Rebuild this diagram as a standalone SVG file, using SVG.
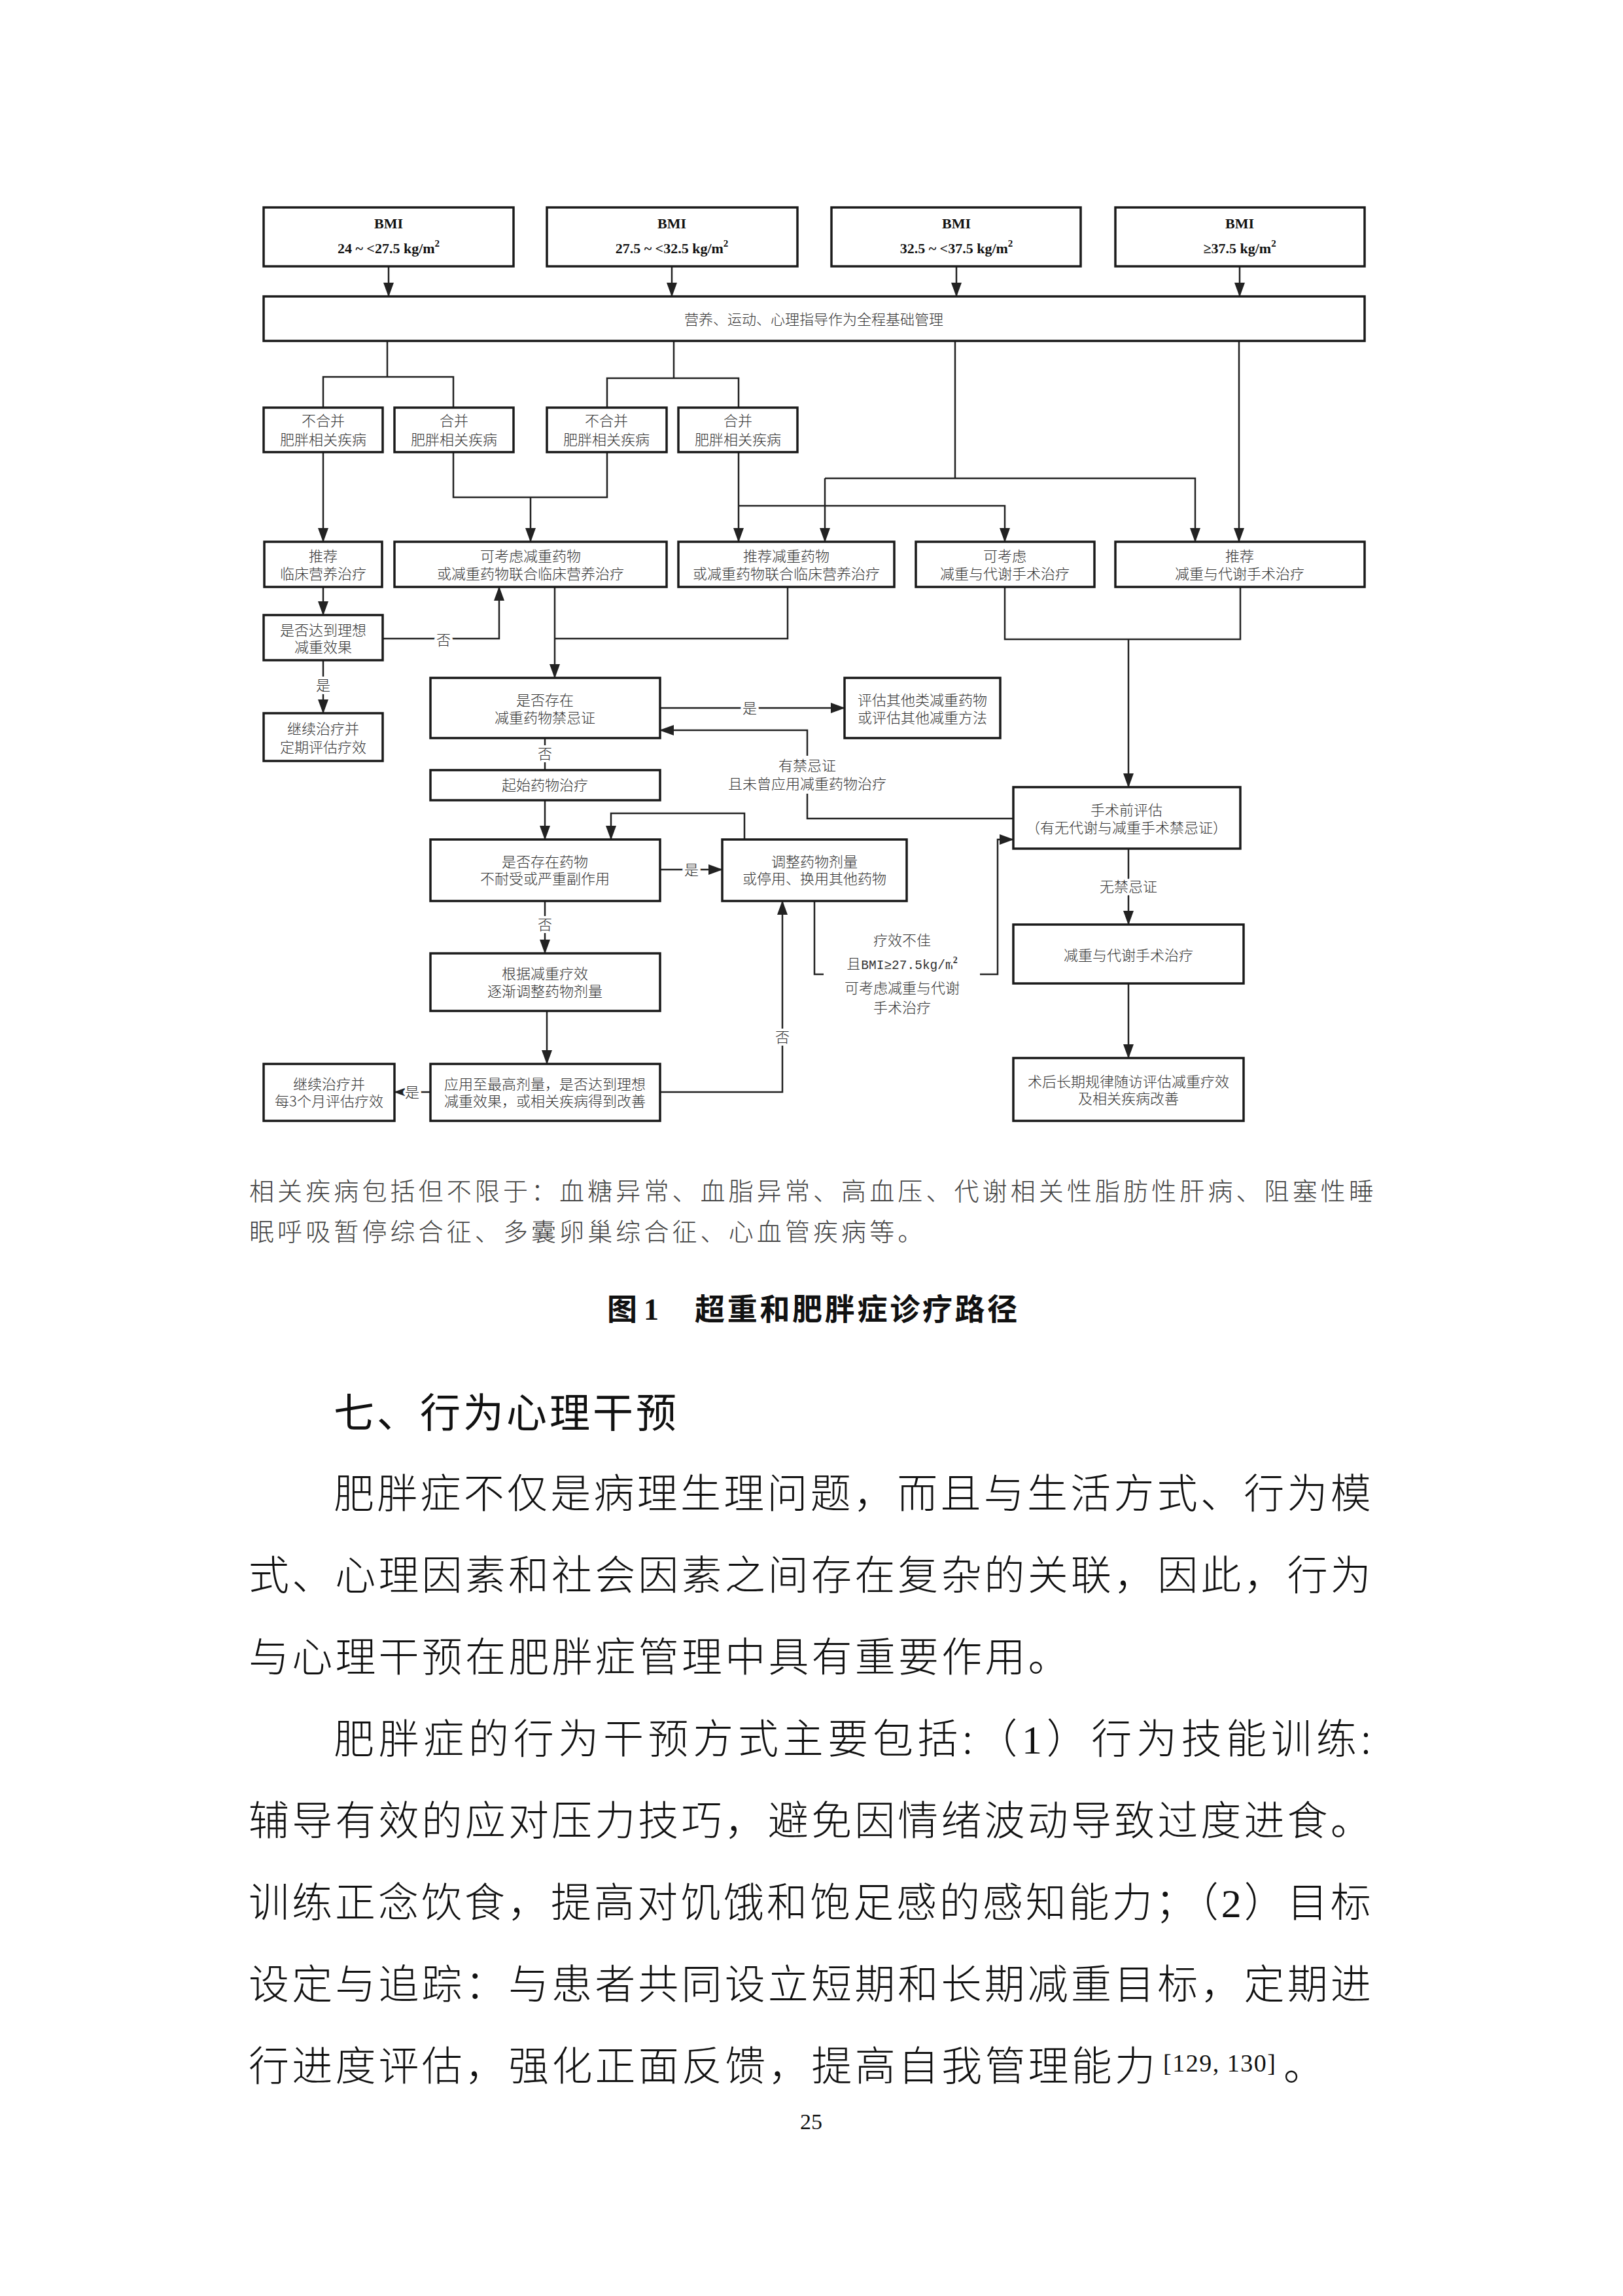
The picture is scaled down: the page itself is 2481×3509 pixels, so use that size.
<svg xmlns="http://www.w3.org/2000/svg" width="2481" height="3509" viewBox="0 0 2481 3509">
<style>
.bg{fill:#ffffff}
.box{fill:#ffffff;stroke:#1a1a1a;stroke-width:3.5}
.ln{fill:none;stroke:#222222;stroke-width:2.5}
.arr{marker-end:url(#ah)}
.t{font-family:"Noto Sans CJK SC","Noto Sans CJK TC",sans-serif;font-size:22px;font-weight:300;fill:#333333;text-anchor:middle}
.lbl{font-family:"Noto Sans CJK SC","Noto Sans CJK TC",sans-serif;font-size:22px;font-weight:300;fill:#333333;text-anchor:middle;paint-order:stroke;stroke:#ffffff;stroke-width:8px;stroke-linejoin:round}
.bmi{font-family:"Liberation Serif",serif;font-weight:bold;font-size:22px;fill:#111111;text-anchor:middle}
.mono{font-family:"Liberation Mono",monospace;font-size:19.5px}
.note{font-family:"Noto Sans CJK SC","Noto Sans CJK TC",sans-serif;font-size:38px;font-weight:300;fill:#444444;letter-spacing:5.1px}
.cap{font-family:"Noto Sans CJK SC","Noto Sans CJK TC",sans-serif;font-size:46px;font-weight:bold;fill:#111111}
.h{font-family:"Noto Sans CJK SC","Noto Sans CJK TC",sans-serif;font-size:62px;font-weight:400;fill:#111111;letter-spacing:4px}
.body{font-family:"Noto Sans CJK SC","Noto Sans CJK TC",sans-serif;font-size:62px;font-weight:300;fill:#111111;letter-spacing:4.2px}
.sup{font-family:"Liberation Serif",serif;font-size:38px;fill:#111111;letter-spacing:1.5px}
.pg{font-family:"Liberation Serif",serif;font-size:34px;fill:#111111;text-anchor:middle}
</style>
<defs>
<marker id="ah" markerUnits="userSpaceOnUse" markerWidth="22" markerHeight="16" refX="21" refY="8" orient="auto">
<path d="M0,0 L22,8 L0,16 z" fill="#222222"/>
</marker>
</defs>
<rect class="bg" x="0" y="0" width="2481" height="3509"/>

<g id="connectors">
<line class="ln arr" x1="594" y1="407" x2="594" y2="453"/>
<line class="ln arr" x1="1027" y1="407" x2="1027" y2="453"/>
<line class="ln arr" x1="1462" y1="407" x2="1462" y2="453"/>
<line class="ln arr" x1="1895" y1="407" x2="1895" y2="453"/>
<polyline class="ln" points="592,521 592,576"/>
<polyline class="ln" points="494,623 494,576 693,576 693,623"/>
<polyline class="ln" points="1030,521 1030,578"/>
<polyline class="ln" points="928,623 928,578 1129,578 1129,623"/>
<polyline class="ln" points="1460,521 1460,731"/>
<polyline class="ln arr" points="1261,731 1827,731 1827,828"/>
<polyline class="ln arr" points="1261,731 1261,828"/>
<line class="ln arr" x1="1894" y1="521" x2="1894" y2="828"/>
<line class="ln arr" x1="494" y1="691" x2="494" y2="828"/>
<polyline class="ln" points="693,691 693,760 928,760 928,691"/>
<line class="ln arr" x1="811" y1="760" x2="811" y2="828"/>
<line class="ln arr" x1="1129" y1="691" x2="1129" y2="828"/>
<polyline class="ln arr" points="1129,773 1536,773 1536,828"/>
<line class="ln arr" x1="494" y1="897" x2="494" y2="940"/>
<polyline class="ln arr" points="585,976 763,976 763,897"/>
<line class="ln arr" x1="494" y1="1009" x2="494" y2="1090"/>
<line class="ln arr" x1="848" y1="897" x2="848" y2="1036"/>
<polyline class="ln" points="1204,897 1204,976 848,976"/>
<line class="ln arr" x1="1009" y1="1082" x2="1291" y2="1082"/>
<polyline class="ln" points="1549,1251 1234,1251 1234,1213"/>
<polyline class="ln arr" points="1234,1155 1234,1116 1009,1116"/>
<line class="ln" x1="833" y1="1128" x2="833" y2="1177"/>
<line class="ln arr" x1="833" y1="1223" x2="833" y2="1283"/>
<line class="ln arr" x1="1009" y1="1329" x2="1104" y2="1329"/>
<polyline class="ln arr" points="1138,1283 1138,1243 934,1243 934,1283"/>
<line class="ln arr" x1="833" y1="1377" x2="833" y2="1457"/>
<line class="ln arr" x1="836" y1="1545" x2="836" y2="1626"/>
<line class="ln arr" x1="658" y1="1669" x2="603" y2="1669"/>
<polyline class="ln arr" points="1009,1669 1196,1669 1196,1377"/>
<polyline class="ln" points="1245,1377 1245,1489 1259,1489"/>
<polyline class="ln arr" points="1498,1489 1525,1489 1525,1283 1549,1283"/>
<polyline class="ln" points="1536,897 1536,977 1896,977 1896,897"/>
<line class="ln arr" x1="1725" y1="977" x2="1725" y2="1203"/>
<line class="ln arr" x1="1725" y1="1297" x2="1725" y2="1413"/>
<line class="ln arr" x1="1725" y1="1503" x2="1725" y2="1617"/>
<text class="lbl" x="678" y="986">否</text>
<text class="lbl" x="494" y="1055">是</text>
<text class="lbl" x="1146" y="1090">是</text>
<text class="lbl" x="1234" y="1178">有禁忌证</text>
<text class="lbl" x="1234" y="1206">且未曾应用减重药物治疗</text>
<text class="lbl" x="833" y="1160">否</text>
<text class="lbl" x="1057" y="1337">是</text>
<text class="lbl" x="833" y="1421">否</text>
<text class="lbl" x="630" y="1677">是</text>
<text class="lbl" x="1196" y="1593">否</text>
<text class="lbl" x="1379" y="1445">疗效不佳</text>
<text class="lbl" x="1379" y="1481">且<tspan class="mono">BMI≥27.5kg/m</tspan><tspan font-size="14" dy="-9" font-family="Liberation Serif, serif" font-weight="bold">2</tspan></text>
<text class="lbl" x="1379" y="1518">可考虑减重与代谢</text>
<text class="lbl" x="1379" y="1548">手术治疗</text>
<text class="lbl" x="1725" y="1363">无禁忌证</text>
</g>

<g id="bmi1"><rect class="box" x="403" y="317" width="382" height="90"/>
<text class="bmi" x="594" y="349">BMI</text>
<text class="bmi" x="594" y="387">24 ~ &lt;27.5 kg/m<tspan font-size="15" dy="-10">2</tspan></text></g>
<g id="bmi2"><rect class="box" x="836" y="317" width="383" height="90"/>
<text class="bmi" x="1027" y="349">BMI</text>
<text class="bmi" x="1027" y="387">27.5 ~ &lt;32.5 kg/m<tspan font-size="15" dy="-10">2</tspan></text></g>
<g id="bmi3"><rect class="box" x="1271" y="317" width="381" height="90"/>
<text class="bmi" x="1462" y="349">BMI</text>
<text class="bmi" x="1462" y="387">32.5 ~ &lt;37.5 kg/m<tspan font-size="15" dy="-10">2</tspan></text></g>
<g id="bmi4"><rect class="box" x="1705" y="317" width="381" height="90"/>
<text class="bmi" x="1895" y="349">BMI</text>
<text class="bmi" x="1895" y="387">≥37.5 kg/m<tspan font-size="15" dy="-10">2</tspan></text></g>

<g id="base"><rect class="box" x="403" y="453" width="1683" height="68"/>
<text class="t" x="1244" y="496">营养、运动、心理指导作为全程基础管理</text></g>

<g id="nocomb1"><rect class="box" x="403" y="623" width="182" height="68"/>
<text class="t" x="494" y="651">不合并</text><text class="t" x="494" y="680">肥胖相关疾病</text></g>
<g id="comb1"><rect class="box" x="603" y="623" width="182" height="68"/>
<text class="t" x="694" y="651">合并</text><text class="t" x="694" y="680">肥胖相关疾病</text></g>
<g id="nocomb2"><rect class="box" x="836" y="623" width="183" height="68"/>
<text class="t" x="927" y="651">不合并</text><text class="t" x="927" y="680">肥胖相关疾病</text></g>
<g id="comb2"><rect class="box" x="1037" y="623" width="182" height="68"/>
<text class="t" x="1128" y="651">合并</text><text class="t" x="1128" y="680">肥胖相关疾病</text></g>

<g id="mnt"><rect class="box" x="404" y="828" width="180" height="69"/>
<text class="t" x="494" y="858">推荐</text><text class="t" x="494" y="885">临床营养治疗</text></g>
<g id="drugopt"><rect class="box" x="603" y="828" width="416" height="69"/>
<text class="t" x="811" y="858">可考虑减重药物</text><text class="t" x="811" y="885">或减重药物联合临床营养治疗</text></g>
<g id="drugrec"><rect class="box" x="1037" y="828" width="330" height="69"/>
<text class="t" x="1202" y="858">推荐减重药物</text><text class="t" x="1202" y="885">或减重药物联合临床营养治疗</text></g>
<g id="surgopt"><rect class="box" x="1400" y="828" width="273" height="69"/>
<text class="t" x="1536" y="858">可考虑</text><text class="t" x="1536" y="885">减重与代谢手术治疗</text></g>
<g id="surgrec"><rect class="box" x="1705" y="828" width="381" height="69"/>
<text class="t" x="1895" y="858">推荐</text><text class="t" x="1895" y="885">减重与代谢手术治疗</text></g>

<g id="ideal1"><rect class="box" x="403" y="940" width="182" height="69"/>
<text class="t" x="494" y="971">是否达到理想</text><text class="t" x="494" y="997">减重效果</text></g>
<g id="cont1"><rect class="box" x="403" y="1090" width="182" height="73"/>
<text class="t" x="494" y="1122">继续治疗并</text><text class="t" x="494" y="1150">定期评估疗效</text></g>

<g id="contra"><rect class="box" x="658" y="1036" width="351" height="92"/>
<text class="t" x="833" y="1078">是否存在</text><text class="t" x="833" y="1105">减重药物禁忌证</text></g>
<g id="other"><rect class="box" x="1291" y="1036" width="238" height="92"/>
<text class="t" x="1410" y="1078">评估其他类减重药物</text><text class="t" x="1410" y="1105">或评估其他减重方法</text></g>
<g id="start"><rect class="box" x="658" y="1177" width="351" height="46"/>
<text class="t" x="833" y="1208">起始药物治疗</text></g>
<g id="preop"><rect class="box" x="1549" y="1203" width="347" height="94"/>
<text class="t" x="1722" y="1246">手术前评估</text><text class="t" x="1722" y="1273">（有无代谢与减重手术禁忌证）</text></g>
<g id="intol"><rect class="box" x="658" y="1283" width="351" height="94"/>
<text class="t" x="833" y="1325">是否存在药物</text><text class="t" x="833" y="1351">不耐受或严重副作用</text></g>
<g id="adjust"><rect class="box" x="1104" y="1283" width="282" height="94"/>
<text class="t" x="1245" y="1325">调整药物剂量</text><text class="t" x="1245" y="1351">或停用、换用其他药物</text></g>
<g id="surgery"><rect class="box" x="1549" y="1413" width="352" height="90"/>
<text class="t" x="1725" y="1468">减重与代谢手术治疗</text></g>
<g id="titrate"><rect class="box" x="658" y="1457" width="351" height="88"/>
<text class="t" x="833" y="1496">根据减重疗效</text><text class="t" x="833" y="1523">逐渐调整药物剂量</text></g>
<g id="maxdose"><rect class="box" x="658" y="1626" width="351" height="87"/>
<text class="t" x="833" y="1665">应用至最高剂量，是否达到理想</text><text class="t" x="833" y="1691">减重效果，或相关疾病得到改善</text></g>
<g id="cont3"><rect class="box" x="403" y="1626" width="200" height="87"/>
<text class="t" x="503" y="1665">继续治疗并</text><text class="t" x="503" y="1691">每3个月评估疗效</text></g>
<g id="followup"><rect class="box" x="1549" y="1617" width="352" height="96"/>
<text class="t" x="1725" y="1661">术后长期规律随访评估减重疗效</text><text class="t" x="1725" y="1687">及相关疾病改善</text></g>

<text class="note" x="381" y="1834">相关疾病包括但不限于：血糖异常、血脂异常、高血压、代谢相关性脂肪性肝病、阻塞性睡</text>
<text class="note" x="381" y="1896">眠呼吸暂停综合征、多囊卵巢综合征、心血管疾病等。</text>

<text class="cap" x="928" y="2017">图<tspan x="984" font-family="Liberation Serif, serif">1</tspan><tspan x="1062" letter-spacing="3.7">超重和肥胖症诊疗路径</tspan></text>

<text class="h" x="510" y="2182">七、行为心理干预</text>

<text class="body" x="510" y="2305" textLength="1590" lengthAdjust="spacing">肥胖症不仅是病理生理问题，而且与生活方式、行为模</text>
<text class="body" x="380" y="2430" textLength="1720" lengthAdjust="spacing">式、心理因素和社会因素之间存在复杂的关联，因此，行为</text>
<text class="body" x="380" y="2555">与心理干预在肥胖症管理中具有重要作用。</text>

<text class="body" x="510" y="2680" textLength="1590" lengthAdjust="spacing">肥胖症的行为干预方式主要包括:（<tspan font-family="Liberation Serif, serif">1</tspan>）行为技能训练:</text>
<text class="body" x="380" y="2805" textLength="1720" lengthAdjust="spacing">辅导有效的应对压力技巧，避免因情绪波动导致过度进食。</text>
<text class="body" x="380" y="2930" textLength="1720" lengthAdjust="spacing">训练正念饮食，提高对饥饿和饱足感的感知能力；（<tspan font-family="Liberation Serif, serif">2</tspan>）目标</text>
<text class="body" x="380" y="3055" textLength="1720" lengthAdjust="spacing">设定与追踪：与患者共同设立短期和长期减重目标，定期进</text>
<text class="body" x="380" y="3180">行进度评估，强化正面反馈，提高自我管理能力</text>
<text class="sup" x="1778" y="3166">[129, 130]</text>
<text class="body" x="1962" y="3180">。</text>

<text class="pg" x="1240" y="3254">25</text>
</svg>
